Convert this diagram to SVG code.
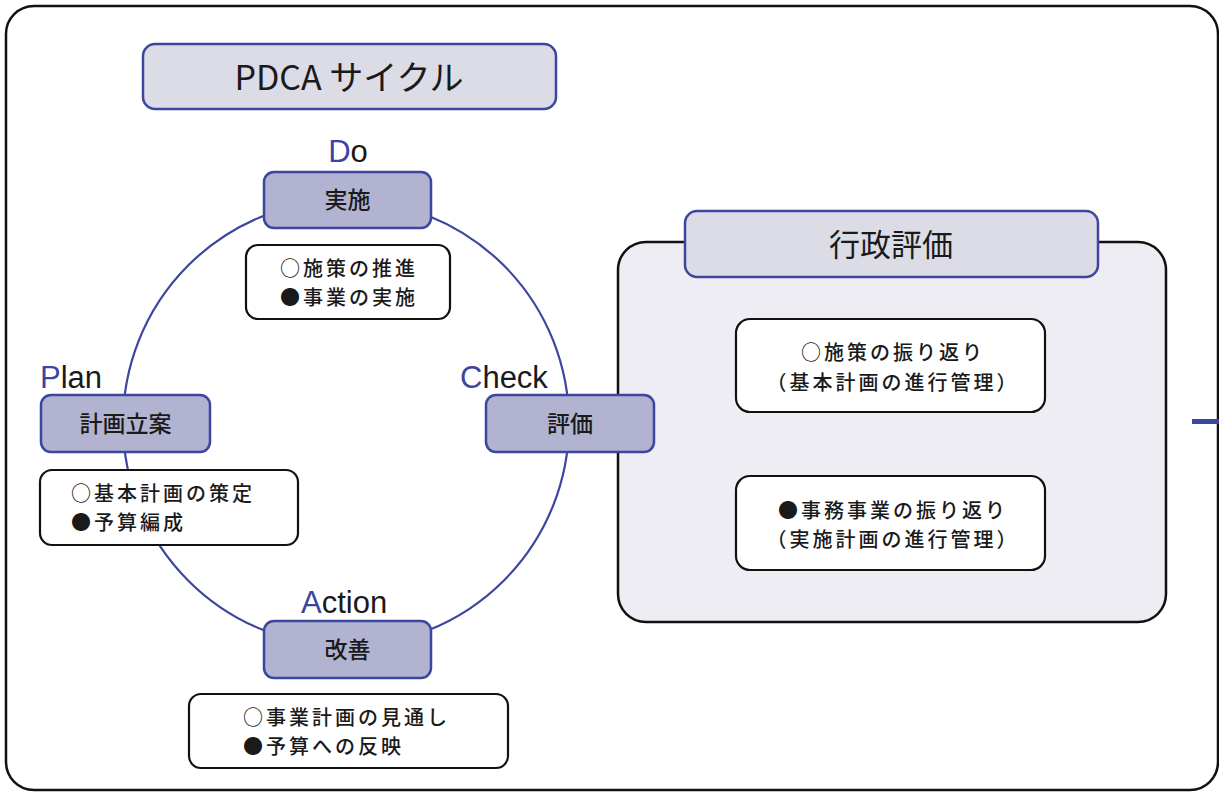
<svg xmlns="http://www.w3.org/2000/svg" width="1219" height="792" viewBox="0 0 1219 792">
<style>
.jp{font-family:"Noto Sans CJK JP","Noto Sans CJK SC",sans-serif;fill:#1a1a1a}
.m{font-weight:500}
.lat{font-family:"Liberation Sans","DejaVu Sans",sans-serif;font-size:31px;fill:#1a1a1a}
.b{fill:#3d469e}
.head{fill:#dcdce7;stroke:#3d469e;stroke-width:2.5}
.node{fill:#b1b3d0;stroke:#3d469e;stroke-width:2.5}
.desc{fill:#ffffff;stroke:#111;stroke-width:2.2}
.t23{font-size:23px}
.t20{font-size:20px;letter-spacing:3px;font-weight:500}
</style>
<rect x="0" y="0" width="1219" height="792" fill="#ffffff"/>
<rect id="frame" x="6" y="6" width="1212" height="784" rx="28" fill="none" stroke="#111" stroke-width="2.5"/>

<g id="title">
<rect class="head" x="143" y="44" width="413" height="65" rx="12"/>
<text class="jp" x="349" y="90" font-size="34" text-anchor="middle">PDCA サイクル</text>
</g>

<g id="connectors">
<circle cx="346" cy="423" r="223" fill="none" stroke="#3d469e" stroke-width="2.2"/>
<line x1="1192" y1="421.5" x2="1219" y2="421.5" stroke="#3d469e" stroke-width="5"/>
</g>

<g id="panel">
<rect x="618" y="242" width="548" height="380" rx="28" fill="#ededf3" stroke="#111" stroke-width="2.5"/>
<rect class="head" x="685" y="211" width="413" height="66" rx="12"/>
<text class="jp" x="891" y="256" font-size="31" text-anchor="middle">行政評価</text>
</g>

<g id="eval1">
<rect class="desc" x="736" y="319" width="309" height="93" rx="14"/>
<text class="jp t20" x="893" y="359.6" text-anchor="middle">○施策の振り返り</text>
<text class="jp t20" x="893" y="389.6" text-anchor="middle">（基本計画の進行管理）</text>
</g>

<g id="eval2">
<rect class="desc" x="736" y="476" width="309" height="94" rx="14"/>
<text class="jp t20" x="893" y="517.6" text-anchor="middle">●事務事業の振り返り</text>
<text class="jp t20" x="893" y="546.6" text-anchor="middle">（実施計画の進行管理）</text>
</g>

<g id="do">
<text class="lat" x="348" y="162" text-anchor="middle"><tspan class="b">D</tspan>o</text>
<rect class="node" x="264" y="172" width="167" height="56" rx="10"/>
<text class="jp t23 m" x="347.5" y="208" text-anchor="middle">実施</text>
<rect class="desc" x="246" y="245" width="204" height="74" rx="12"/>
<text class="jp t20" x="349" y="275.6" text-anchor="middle">○施策の推進</text>
<text class="jp t20" x="349" y="304.6" text-anchor="middle">●事業の実施</text>
</g>

<g id="plan">
<text class="lat" x="40" y="388"><tspan class="b">P</tspan>lan</text>
<rect class="node" x="41" y="395" width="169" height="57" rx="10"/>
<text class="jp t23 m" x="125.5" y="432" text-anchor="middle">計画立案</text>
<rect class="desc" x="40" y="470" width="258" height="75" rx="12"/>
<text class="jp t20" x="71" y="500.6">○基本計画の策定</text>
<text class="jp t20" x="71" y="529.6">●予算編成</text>
</g>

<g id="check">
<text class="lat" x="460" y="388"><tspan class="b">C</tspan>heck</text>
<rect class="node" x="486" y="395" width="168" height="57" rx="10"/>
<text class="jp t23 m" x="570" y="432" text-anchor="middle">評価</text>
</g>

<g id="action">
<text class="lat" x="301" y="613"><tspan class="b">A</tspan>ction</text>
<rect class="node" x="264" y="621" width="167" height="57" rx="10"/>
<text class="jp t23 m" x="347.5" y="658" text-anchor="middle">改善</text>
<rect class="desc" x="189" y="694" width="319" height="74" rx="12"/>
<text class="jp t20" x="243" y="724.6">○事業計画の見通し</text>
<text class="jp t20" x="243" y="753.6">●予算への反映</text>
</g>
</svg>
